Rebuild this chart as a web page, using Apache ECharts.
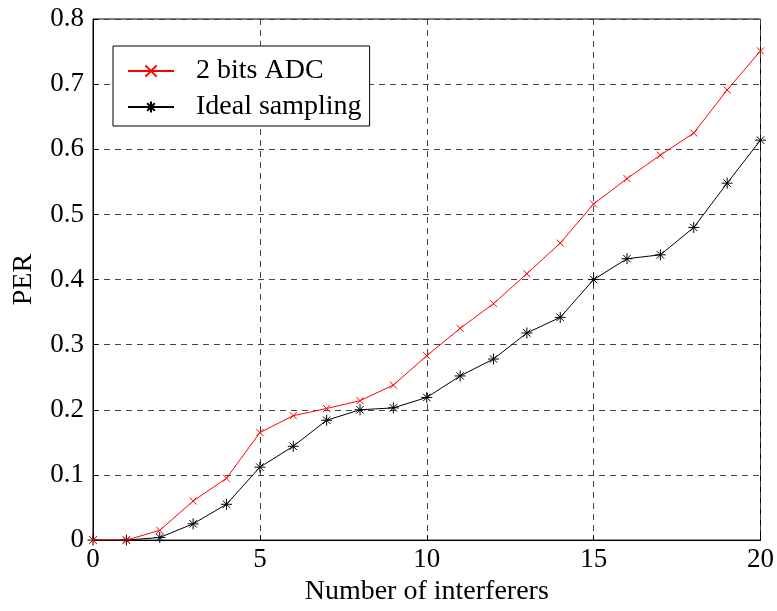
<!DOCTYPE html>
<html>
<head>
<meta charset="utf-8">
<script src="https://cdn.jsdelivr.net/npm/echarts@6/dist/echarts.min.js"></script>
<style>
  html, body { margin: 0; padding: 0; background: #fff; }
  #chart { width: 777px; height: 611px; }
</style>
</head>
<body>
<div id="chart"></div>
<script>
// number of interferers 0..20
const interferers = [0, 1, 2, 3, 4, 5, 6, 7, 8, 9, 10, 11, 12, 13, 14, 15, 16, 17, 18, 19, 20]
// PER
const adc2bits = [0, 0, 0.015, 0.06, 0.095, 0.165, 0.191, 0.202, 0.214, 0.238, 0.283,
  0.325, 0.363, 0.409, 0.456, 0.516, 0.555, 0.591, 0.625, 0.691, 0.751]
const idealSampling = [0, 0, 0.004, 0.025, 0.055, 0.112, 0.144, 0.184, 0.2, 0.203, 0.219,
  0.252, 0.278, 0.318, 0.342, 0.4, 0.432, 0.438, 0.48, 0.548, 0.614]

const serif = 'Liberation Serif'
const crossSymbol = 'path://M0,0L10,10M10,0L0,10'
const starSymbol = 'path://M5,0L5,10M0,5L10,5M1.6,1.6L8.4,8.4M8.4,1.6L1.6,8.4'

const chart = echarts.init(document.getElementById('chart'))
chart.setOption({
  animation: false,
  grid: {
    left: 93,
    right: 15,
    top: 19,
    bottom: 66,
    show: true,
    borderColor: '#000',
    borderWidth: 1
  },
  legend: {
    orient: 'vertical',
    left: 113,
    top: 46,
    padding: [11, 8, 5, 14],
    itemGap: 8,
    itemWidth: 46,
    itemHeight: 14,
    borderColor: '#000',
    borderWidth: 1,
    backgroundColor: '#fff',
    textStyle: { fontFamily: serif, fontSize: 28, lineHeight: 28, color: '#000', padding: [0, 0, 0, 17] },
    data: ['2 bits ADC', 'Ideal sampling']
  },
  xAxis: {
    type: 'value',
    min: 0,
    max: 20,
    interval: 5,
    name: 'Number of interferers',
    nameLocation: 'middle',
    nameGap: 31,
    nameTextStyle: { fontFamily: serif, fontSize: 28, color: '#000' },
    axisLine: { lineStyle: { color: '#000' } },
    axisTick: { inside: true, length: 5, lineStyle: { color: '#000' } },
    axisLabel: { fontFamily: serif, fontSize: 27, color: '#000', margin: 6 },
    splitLine: { lineStyle: { type: [6, 5], color: '#444' } }
  },
  yAxis: {
    type: 'value',
    min: 0,
    max: 0.8,
    interval: 0.1,
    name: 'PER',
    nameLocation: 'middle',
    nameGap: 55,
    nameTextStyle: { fontFamily: serif, fontSize: 28, color: '#000' },
    axisLine: { show: true, lineStyle: { color: '#000' } },
    axisTick: { show: true, inside: true, length: 5, lineStyle: { color: '#000' } },
    axisLabel: { fontFamily: serif, fontSize: 27, color: '#000', margin: 9 },
    splitLine: { lineStyle: { type: [6, 5], color: '#444' } }
  },
  series: [
    {
      name: '2 bits ADC',
      type: 'line',
      data: interferers.map((x, i) => [x, adc2bits[i]]),
      symbol: crossSymbol,
      symbolSize: 7,
      showAllSymbol: true,
      lineStyle: { color: '#ff0000', width: 1 },
      itemStyle: { color: 'transparent', borderColor: '#ff0000', borderWidth: 1 },
      z: 3
    },
    {
      name: 'Ideal sampling',
      type: 'line',
      data: interferers.map((x, i) => [x, idealSampling[i]]),
      symbol: starSymbol,
      symbolSize: 11,
      showAllSymbol: true,
      lineStyle: { color: '#000', width: 1 },
      itemStyle: { color: 'transparent', borderColor: '#000', borderWidth: 1 },
      z: 2
    }
  ]
})
</script>
</body>
</html>
